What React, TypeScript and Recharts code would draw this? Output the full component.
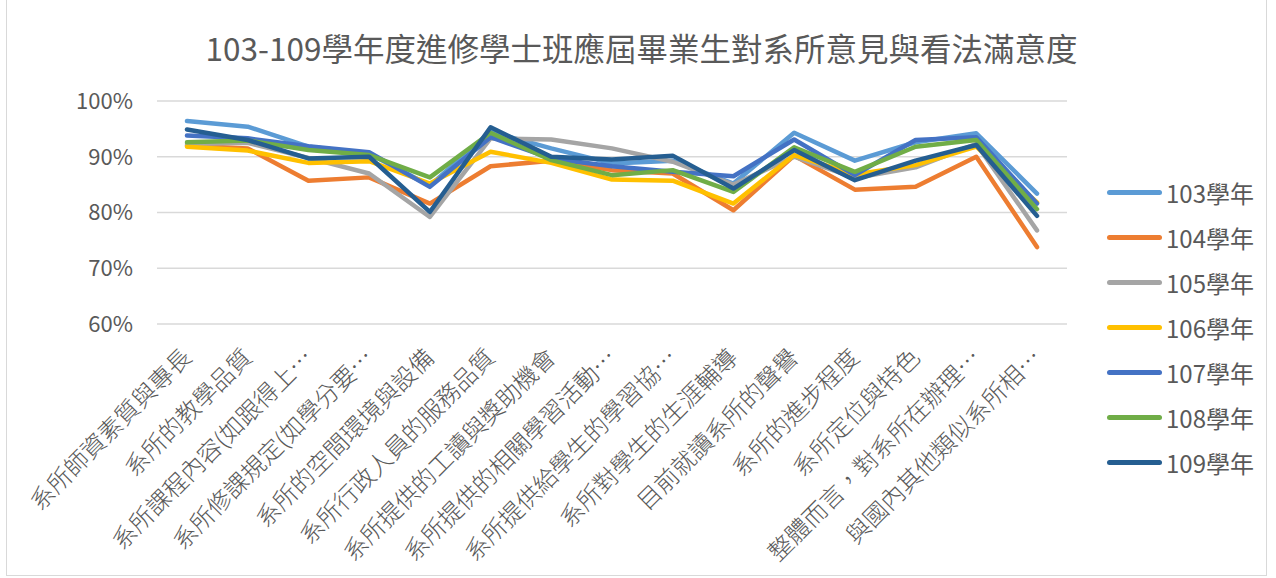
import { LineChart, Line, XAxis, YAxis, CartesianGrid, Legend } from 'recharts'

const categories = [
  '系所師資素質與專長',
  '系所的教學品質',
  '系所課程內容(如跟得上…',
  '系所修課規定(如學分要…',
  '系所的空間環境與設備',
  '系所行政人員的服務品質',
  '系所提供的工讀與獎助機會',
  '系所提供的相關學習活動…',
  '系所提供給學生的學習協…',
  '系所對學生的生涯輔導',
  '目前就讀系所的聲譽',
  '系所的進步程度',
  '系所定位與特色',
  '整體而言，對系所在辦理…',
  '與國內其他類似系所相…',
]

const y103 = [96.4, 95.4, 91.8, 90.6, 84.8, 94.5, 91.5, 88.8, 89.3, 85.2, 94.3, 89.3, 92.6, 94.2, 83.4]
const y104 = [92.0, 91.5, 85.7, 86.3, 81.6, 88.3, 89.3, 87.6, 87.0, 80.4, 90.2, 84.1, 84.6, 90.0, 73.8]
const y105 = [92.3, 92.5, 89.8, 87.0, 79.2, 93.3, 93.1, 91.5, 89.1, 85.0, 90.0, 86.2, 88.1, 92.3, 76.8]
const y106 = [91.8, 91.1, 88.9, 89.2, 85.2, 90.9, 88.9, 85.9, 85.7, 81.6, 90.3, 86.8, 88.5, 91.8, 81.8]
const y107 = [93.8, 93.3, 91.9, 90.8, 84.6, 93.5, 89.7, 88.3, 87.3, 86.5, 93.1, 86.7, 93.0, 93.5, 81.6]
const y108 = [92.6, 92.9, 91.2, 90.3, 86.3, 94.3, 89.4, 86.7, 87.6, 83.7, 91.7, 87.3, 91.8, 93.0, 80.6]
const y109 = [94.9, 93.0, 89.7, 90.0, 80.1, 95.3, 90.0, 89.5, 90.2, 84.3, 91.2, 85.8, 89.3, 92.1, 79.4]

const yTicks = [60, 70, 80, 90, 100]

const series = [
  { key: '103學年', values: y103, color: '#5B9BD5' },
  { key: '104學年', values: y104, color: '#ED7D31' },
  { key: '105學年', values: y105, color: '#A5A5A5' },
  { key: '106學年', values: y106, color: '#FFC000' },
  { key: '107學年', values: y107, color: '#4472C4' },
  { key: '108學年', values: y108, color: '#70AD47' },
  { key: '109學年', values: y109, color: '#255E91' },
]

const data = categories.map((name, i) => {
  const row: Record<string, string | number> = { name }
  series.forEach((s) => {
    row[s.key] = s.values[i]
  })
  return row
})

const FONT = "'Noto Sans CJK TC', 'Noto Sans', sans-serif"
const TEXT = '#595959'

function CategoryTick({ x, y, payload }: any) {
  return (
    <g transform={`translate(${x},${y})`}>
      <text
        transform="rotate(-45)"
        textAnchor="end"
        dy="0.35em"
        fill={TEXT}
        fontSize={24}
        fontWeight={300}
        fontFamily={FONT}
      >
        {payload.value}
      </text>
    </g>
  )
}

function YearLegend({ payload }: any) {
  return (
    <div style={{ fontFamily: FONT }}>
      {(payload || []).map((p: any) => (
        <div key={p.value} style={{ display: 'flex', alignItems: 'center', height: 45 }}>
          <div style={{ width: 55, height: 5, borderRadius: 3, background: p.color, marginRight: 4 }} />
          <span style={{ fontSize: 24, color: TEXT, lineHeight: '24px' }}>{p.value}</span>
        </div>
      ))}
    </div>
  )
}

export default function App() {
  return (
    <div style={{ position: 'absolute', left: 0, top: 0, width: 1276, height: 578, background: '#fff' }}>
      <div
        style={{
          position: 'absolute',
          left: 6,
          top: -1,
          width: 1261,
          height: 577,
          border: '1px solid #d9d9d9',
          boxSizing: 'border-box',
        }}
      />
      <div
        style={{
          position: 'absolute',
          left: 0,
          top: 27,
          width: 1283,
          textAlign: 'center',
          fontFamily: FONT,
          fontSize: 31.5,
          lineHeight: '40px',
          color: TEXT,
        }}
      >
        103-109學年度進修學士班應屆畢業生對系所意見與看法滿意度
      </div>
      <LineChart
        width={1276}
        height={578}
        data={data}
        margin={{ top: 101, right: 209, bottom: 0, left: 0 }}
        style={{ position: 'absolute', left: 0, top: 0 }}
      >
        <CartesianGrid vertical={false} stroke="#d9d9d9" strokeWidth={1.5} />
        <XAxis
          dataKey="name"
          interval={0}
          height={254}
          padding={{ left: 30, right: 30 }}
          axisLine={false}
          tickLine={false}
          tickSize={0}
          tickMargin={29}
          tick={<CategoryTick />}
        />
        <YAxis
          width={157}
          domain={[60, 100]}
          ticks={yTicks}
          axisLine={false}
          tickLine={false}
          tickSize={0}
          tickMargin={24}
          tickFormatter={(v: number) => `${v}%`}
          tick={{ fill: TEXT, fontSize: 22, fontFamily: FONT }}
        />
        <Legend
          layout="vertical"
          align="center"
          verticalAlign="middle"
          content={<YearLegend />}
          wrapperStyle={{ position: 'absolute', left: 1107, top: 170, width: 165, height: 320 }}
        />
        {series.map((s) => (
          <Line
            key={s.key}
            type="linear"
            dataKey={s.key}
            stroke={s.color}
            strokeWidth={4.5}
            strokeLinecap="round"
            strokeLinejoin="round"
            dot={false}
            activeDot={false}
            isAnimationActive={false}
          />
        ))}
      </LineChart>
    </div>
  )
}
